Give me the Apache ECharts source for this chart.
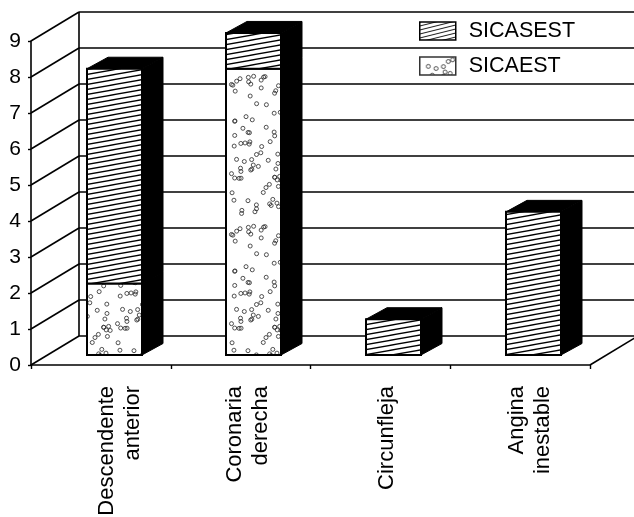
<!DOCTYPE html>
<html>
<head>
<meta charset="utf-8">
<style>html,body{margin:0;padding:0;background:#fff}#c{width:634px;height:517px}</style>
<script src="https://cdn.jsdelivr.net/npm/echarts@6/dist/echarts.min.js"></script>
</head>
<body>
<div id="c"></div>
<script>
var categories = ['Descendente\nanterior', 'Coronaria\nderecha', 'Circunfleja', 'Angina\ninestable'];
var sicaest = [2, 8, 0, 0];
var sicasest = [6, 1, 1, 4];
var yTicks = [0, 1, 2, 3, 4, 5, 6, 7, 8, 9];
var labelShift = [19, 7.5, 7, 9.5];

var FONT = '"Liberation Sans", Arial, sans-serif';
var WALL_DX = 48, WALL_DY = -29;
var BAR_OFFSET = 13.2, BAR_W = 55, BAR_FLOOR = 10, BAR_DX = 21, BAR_DY = -11.5, BAR_SCALE = 0.994;
var LABEL_TOP = 386;

function hatchTile(w, h, lw) {
  var c = document.createElement('canvas');
  c.width = w; c.height = h;
  var g = c.getContext('2d');
  g.fillStyle = '#fff'; g.fillRect(0, 0, w, h);
  g.strokeStyle = '#000'; g.lineWidth = lw;
  for (var i = -3; i <= 3; i++) {
    g.beginPath();
    g.moveTo(-w, h * i + h);
    g.lineTo(2 * w, h * i - 2 * h);
    g.stroke();
  }
  return c;
}
function dotTile(w, h, n) {
  var c = document.createElement('canvas');
  c.width = w; c.height = h;
  var g = c.getContext('2d');
  g.fillStyle = '#fff'; g.fillRect(0, 0, w, h);
  g.strokeStyle = '#333'; g.lineWidth = 0.85;
  var s = 20240611;
  function next() {
    s = (s + 0x6D2B79F5) | 0;
    var t = Math.imul(s ^ (s >>> 15), 1 | s);
    t = (t + Math.imul(t ^ (t >>> 7), 61 | t)) ^ t;
    return ((t ^ (t >>> 14)) >>> 0) / 4294967296;
  }
  for (var i = 0; i < n; i++) {
    var x = 2.5 + next() * (w - 5), y = 2.5 + next() * (h - 5);
    g.beginPath(); g.arc(x, y, 2, 0, Math.PI * 2); g.stroke();
  }
  return c;
}
var hatchFill = { image: hatchTile(28, 5, 1.3), repeat: 'repeat' };
var legendHatchFill = { image: hatchTile(16, 4, 0.9), repeat: 'repeat' };
var dotFill = { image: dotTile(57, 150, 80), repeat: 'repeat' };

function renderWall(params, api) {
  var v = api.value(0);
  var cs = params.coordSys;
  var y = api.coord([0, v])[1];
  var left = cs.x, right = cs.x + cs.width;
  var lineStyle = { stroke: '#000', lineWidth: 1.6 };
  var kids = [
    { type: 'line', shape: { x1: left, y1: y, x2: left + WALL_DX, y2: y + WALL_DY }, style: lineStyle },
    { type: 'line', shape: { x1: left + WALL_DX, y1: y + WALL_DY, x2: right + WALL_DX, y2: y + WALL_DY }, style: lineStyle }
  ];
  if (v === yTicks[0]) {
    var top = api.coord([0, yTicks[yTicks.length - 1]])[1];
    kids.push({ type: 'line', shape: { x1: right, y1: y, x2: right + WALL_DX, y2: y + WALL_DY }, style: lineStyle });
    kids.push({ type: 'line', shape: { x1: left + WALL_DX, y1: y + WALL_DY, x2: left + WALL_DX, y2: top + WALL_DY }, style: lineStyle });
  }
  return { type: 'group', children: kids };
}

function barRenderer(fill) {
  return function (params, api) {
    var start = api.value(1), end = api.value(2);
    if (end <= start) return null;
    var zero = api.coord([0, 0])[1];
    var cx = api.coord([api.value(0), 0])[0] + BAR_OFFSET;
    function yOf(val) { return zero - BAR_FLOOR + (api.coord([0, val])[1] - zero) * BAR_SCALE; }
    var l = Math.round(cx - BAR_W / 2), r = l + BAR_W;
    var b = yOf(start), t = yOf(end);
    var black = { fill: '#000', stroke: '#000', lineWidth: 1 };
    return {
      type: 'group',
      children: [
        { type: 'polygon', shape: { points: [[l, t], [l + BAR_DX, t + BAR_DY], [r + BAR_DX, t + BAR_DY], [r, t]] }, style: black },
        { type: 'polygon', shape: { points: [[r, t], [r + BAR_DX, t + BAR_DY], [r + BAR_DX, b + BAR_DY], [r, b]] }, style: black },
        { type: 'rect', shape: { x: l, y: t, width: BAR_W, height: b - t }, style: { fill: fill, stroke: '#000', lineWidth: 2 } }
      ]
    };
  };
}

function renderCategoryLabel(params, api) {
  var i = api.value(0);
  var x = api.coord([i, 0])[0] + labelShift[i];
  return {
    type: 'text',
    x: x, y: LABEL_TOP, rotation: Math.PI / 2,
    style: {
      text: categories[i], fontFamily: FONT, fontSize: 22, lineHeight: 26,
      fill: '#000', align: 'right', verticalAlign: 'middle'
    }
  };
}

function stackRows(lower, values) {
  return values.map(function (v, i) { return [i, lower[i], lower[i] + v]; });
}
var zeros = categories.map(function () { return 0; });

var chart = echarts.init(document.getElementById('c'), null, { renderer: 'canvas' });
chart.setOption({
  animation: false,
  backgroundColor: '#fff',
  textStyle: { fontFamily: FONT, color: '#000' },
  grid: { left: 31, right: 44, top: 41, bottom: 152, containLabel: false },
  legend: {
    orient: 'vertical', left: 419, top: 20, padding: 0,
    itemWidth: 36, itemHeight: 18, itemGap: 13,
    selectedMode: false,
    textStyle: { fontFamily: FONT, fontSize: 21.5, color: '#000', padding: [0, 0, 0, 8] },
    data: [
      { name: 'SICASEST', icon: 'rect', itemStyle: { color: legendHatchFill, borderColor: '#000', borderWidth: 1.5 } },
      { name: 'SICAEST', icon: 'rect', itemStyle: { color: dotFill, borderColor: '#333', borderWidth: 1.5 },
        textStyle: { padding: [0, 0, 3, 8] } }
    ]
  },
  xAxis: {
    type: 'category',
    data: categories,
    boundaryGap: true,
    axisLine: { show: true, lineStyle: { color: '#000', width: 1.6 } },
    axisTick: { show: true, length: 4, lineStyle: { color: '#000', width: 1.4 } },
    axisLabel: { show: false }
  },
  yAxis: {
    type: 'value', min: 0, max: 9, interval: 1,
    splitLine: { show: false },
    axisLine: { show: true, lineStyle: { color: '#000', width: 1.6 } },
    axisTick: { show: true, length: 3, lineStyle: { color: '#000', width: 1.4 } },
    axisLabel: { margin: 10, fontSize: 21, color: '#000', fontFamily: FONT }
  },
  series: [
    {
      type: 'custom', name: 'walls', z: 1, silent: true,
      coordinateSystem: 'cartesian2d',
      data: yTicks.map(function (v) { return [v]; }),
      encode: { y: 0 },
      renderItem: renderWall
    },
    {
      type: 'custom', name: 'SICAEST', z: 2,
      coordinateSystem: 'cartesian2d',
      data: stackRows(zeros, sicaest),
      encode: { x: 0, y: [1, 2] },
      itemStyle: { color: '#fff' },
      renderItem: barRenderer(dotFill)
    },
    {
      type: 'custom', name: 'SICASEST', z: 3,
      coordinateSystem: 'cartesian2d',
      data: stackRows(sicaest, sicasest),
      encode: { x: 0, y: [1, 2] },
      itemStyle: { color: '#000' },
      renderItem: barRenderer(hatchFill)
    },
    {
      type: 'custom', name: 'labels', z: 4, silent: true,
      coordinateSystem: 'cartesian2d',
      data: categories.map(function (c, i) { return [i]; }),
      encode: { x: 0 },
      renderItem: renderCategoryLabel
    }
  ]
});
</script>
</body>
</html>
